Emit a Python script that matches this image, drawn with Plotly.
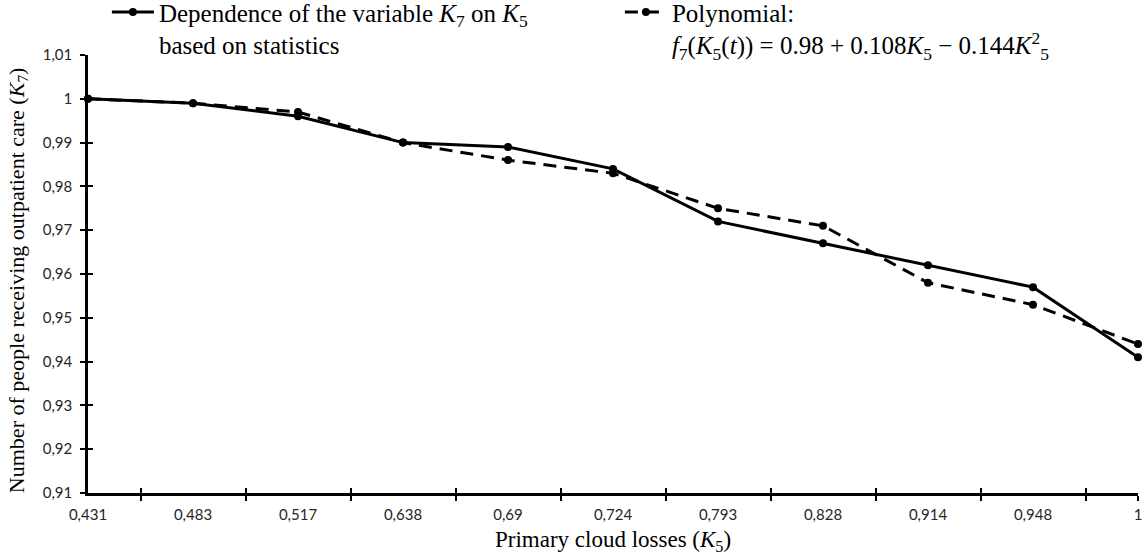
import plotly.graph_objects as go

categories = ["0,431", "0,483", "0,517", "0,638", "0,69", "0,724", "0,793", "0,828", "0,914", "0,948", "1"]
statistics = [1.000, 0.999, 0.996, 0.990, 0.989, 0.984, 0.972, 0.967, 0.962, 0.957, 0.941]
polynomial = [1.000, 0.999, 0.997, 0.990, 0.986, 0.983, 0.975, 0.971, 0.958, 0.953, 0.944]
y_tickvals = [0.91, 0.92, 0.93, 0.94, 0.95, 0.96, 0.97, 0.98, 0.99, 1.00, 1.01]
y_ticktext = ["0,91", "0,92", "0,93", "0,94", "0,95", "0,96", "0,97", "0,98", "0,99", "1", "1,01"]
x_title = "Primary cloud losses (<i>K</i><sub>5</sub>)"
y_title = "Number of people receiving outpatient care (<i>K</i><sub>7</sub>)"

idx = list(range(len(categories)))
mid_ticks = [i + 0.5 for i in idx[:-1]] + [idx[-1]]

serif = "Liberation Serif, Times New Roman, serif"
sans = "Lato, sans-serif"

fig = go.Figure()
fig.add_trace(go.Scatter(
    x=idx, y=statistics, mode="lines+markers",
    name="Dependence of the variable <i>K</i><sub>7</sub> on <i>K</i><sub>5</sub><br>based on statistics",
    line=dict(color="black", width=3),
    marker=dict(color="black", size=8, symbol="circle"),
    cliponaxis=False,
))
fig.add_trace(go.Scatter(
    x=idx, y=polynomial, mode="lines+markers",
    name="Polynomial:<br><i>f</i><sub>7</sub>(<i>K</i><sub>5</sub>(<i>t</i>)) = 0.98 + 0.108<i>K</i><sub>5</sub> − 0.144<i>K</i><sup>2</sup><sub>5</sub>",
    line=dict(color="black", width=3, dash="13px,8px"),
    marker=dict(color="black", size=8, symbol="circle"),
    cliponaxis=False,
))
# invisible helper traces to activate the overlay axes
fig.add_trace(go.Scatter(x=[idx[0], idx[-1]], y=[1.0, 1.0], xaxis="x2", yaxis="y2",
                         mode="markers", marker=dict(opacity=0), showlegend=False, hoverinfo="skip"))
fig.add_trace(go.Scatter(x=[idx[0], idx[-1]], y=[1.0, 1.0], xaxis="x3", yaxis="y",
                         mode="markers", marker=dict(opacity=0), showlegend=False, hoverinfo="skip"))

fig.update_layout(
    width=1142, height=555,
    margin=dict(l=88, r=4, t=55, b=62, autoexpand=False),
    paper_bgcolor="white", plot_bgcolor="white",
    showlegend=True,
    legend=dict(
        orientation="h", x=0.018, y=1.15, xanchor="left", yanchor="top",
        font=dict(family=serif, size=25, color="black"),
        valign="top", entrywidth=456, entrywidthmode="pixels", itemwidth=42,
        bgcolor="rgba(0,0,0,0)", tracegroupgap=0,
    ),
    xaxis=dict(
        range=[0, 10], tickmode="array", tickvals=mid_ticks, ticktext=[""] * len(mid_ticks),
        ticks="outside", ticklen=5, tickwidth=2, tickcolor="black",
        showline=True, linecolor="black", linewidth=2.5, showgrid=False, zeroline=False,
        title=dict(text=x_title, font=dict(family=serif, size=23, color="black"), standoff=30),
    ),
    xaxis2=dict(
        range=[0, 10], overlaying="x", anchor="y2", side="bottom", tickmode="array",
        tickvals=mid_ticks, ticktext=[""] * len(mid_ticks),
        ticks="inside", ticklen=5, tickwidth=2, tickcolor="black",
        showline=False, showgrid=False, zeroline=False,
    ),
    xaxis3=dict(
        range=[0, 10], overlaying="x", anchor="y", side="bottom", tickmode="array",
        tickvals=idx, ticktext=categories, ticks="", ticklabelstandoff=11,
        ticklabeloverflow="allow",
        tickfont=dict(family=sans, size=15, color="#262626"),
        showline=False, showgrid=False, zeroline=False,
    ),
    yaxis=dict(
        range=[0.91, 1.01], tickmode="array", tickvals=y_tickvals, ticktext=y_ticktext,
        ticks="outside", ticklen=5, tickwidth=2, tickcolor="black", ticklabelstandoff=5,
        tickfont=dict(family=sans, size=15, color="#262626"),
        showline=True, linecolor="black", linewidth=2.5, showgrid=False, zeroline=False,
    ),
    yaxis2=dict(
        range=[0.91, 1.01], overlaying="y", anchor="x", side="left", tickmode="array",
        tickvals=y_tickvals, ticktext=[""] * len(y_tickvals),
        ticks="inside", ticklen=5, tickwidth=2, tickcolor="black",
        showline=False, showgrid=False, zeroline=False,
    ),
    annotations=[dict(
        text=y_title, textangle=-90, xref="paper", yref="paper",
        x=-70 / 1050, y=0.486, xanchor="center", yanchor="middle", showarrow=False,
        font=dict(family=serif, size=22, color="black"),
    )],
)

fig.write_html("out.html")
